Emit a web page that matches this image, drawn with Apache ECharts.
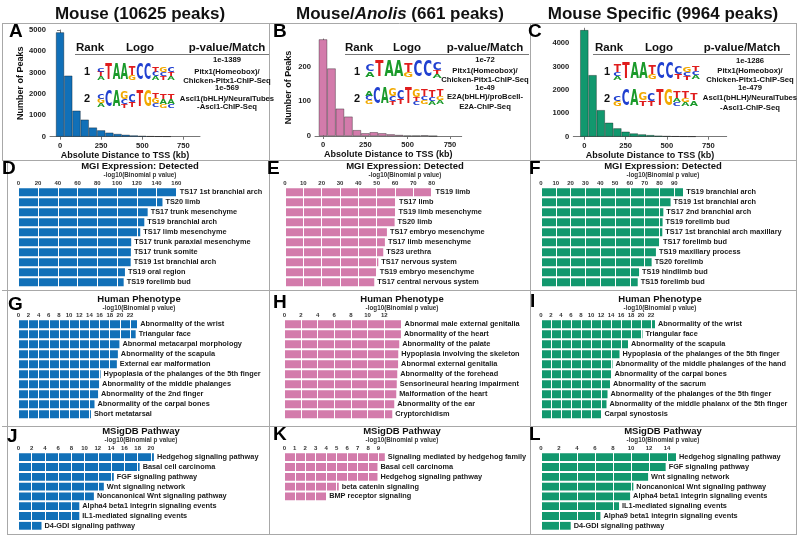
<!DOCTYPE html>
<html><head><meta charset="utf-8">
<script src="https://cdn.jsdelivr.net/npm/echarts@6/dist/echarts.min.js"></script>
<style>html,body{margin:0;padding:0;background:#fff}#c{width:800px;height:543px}</style>
</head><body><div id="c"></div>
<script>
// ---------------- DATA ----------------
const histBins = [0,50,100,150,200,250,300,350,400,450,500,550,600,650];
const mouseCounts    = [4890,2860,1220,800,430,300,190,130,90,60,40,25,15,10];
const anolisCounts   = [279,195,79,56,17,8,11,8,5,3,1,1,2,0];
const specificCounts = [4570,2640,1140,600,360,215,140,100,70,45,30,20,12,8];
const histXTicks = [0,250,500,750];
const mouseYTicks = [0,1000,2000,3000,4000,5000];
const anolisYTicks = [0,100,200];
const specificYTicks = [0,1000,2000,3000,4000];

const colTitles = ['Mouse (10625 peaks)', 'Mouse/Anolis (661 peaks)', 'Mouse Specific (9964 peaks)'];
const mouseMotifText = ['1e-1389','Pitx1(Homeobox)/','Chicken-Pitx1-ChIP-Seq','1e-569','Ascl1(bHLH)/NeuralTubes','-Ascl1-ChIP-Seq'];
const anolisMotifText = ['1e-72','Pitx1(Homeobox)/','Chicken-Pitx1-ChIP-Seq','1e-49','E2A(bHLH)/proBcell-','E2A-ChIP-Seq'];
const specificMotifText = ['1e-1286','Pitx1(Homeobox)/','Chicken-Pitx1-ChIP-Seq','1e-479','Ascl1(bHLH)/NeuralTubes','-Ascl1-ChIP-Seq'];

// sequence logos: columns, letters top->bottom with relative heights
const logoMouse1 = [[['C',.25],['T',.3],['A',.25]],[['T',1]],[['A',1]],[['A',1]],[['T',.55],['G',.3]],[['C',1]],[['C',.95]],[['T',.3],['C',.3],['A',.25]],[['G',.3],['C',.25],['T',.25]],[['C',.3],['T',.25],['A',.25]]];
const logoMouse2 = [[['C',.3],['G',.3],['A',.25]],[['C',1]],[['A',1]],[['G',.45],['C',.3],['T',.2]],[['C',.5],['T',.3]],[['T',1]],[['G',1]],[['T',.35],['G',.3],['C',.25]],[['T',.35],['A',.3],['G',.2]],[['T',.3],['A',.3],['C',.2]]];
const logoAnolis1 = [[['C',.4],['A',.35]],[['T',1]],[['A',1]],[['A',1]],[['T',.6],['G',.3]],[['C',1]],[['C',1]],[['C',.45],['T',.25],['A',.2]]];
const logoAnolis2 = [[['A',.3],['C',.3],['G',.25]],[['C',1]],[['A',1]],[['G',.45],['C',.3],['T',.2]],[['C',.55],['T',.3]],[['T',1]],[['G',.45],['T',.25],['C',.2]],[['T',.4],['C',.25],['G',.25]],[['T',.4],['C',.25],['A',.2]],[['T',.4],['G',.25],['A',.25]]];
const logoSpecific1 = [[['T',.45],['C',.25],['A',.2]],[['T',1]],[['A',1]],[['A',1]],[['T',.55],['G',.3]],[['C',1]],[['C',1]],[['C',.45],['T',.3]],[['G',.35],['C',.25],['T',.2]],[['T',.35],['C',.25],['A',.25]]];
const logoSpecific2 = [[['C',.35],['G',.35]],[['C',1]],[['A',1]],[['G',.45],['T',.35]],[['C',.5],['T',.3]],[['T',1]],[['G',1]],[['T',.4],['A',.25],['C',.25]],[['T',.4],['G',.25],['A',.25]],[['T',.4],['A',.35]]];

const mgiMouseTerms = ['TS17 1st branchial arch','TS20 limb','TS17 trunk mesenchyme','TS19 branchial arch','TS17 limb mesenchyme','TS17 trunk paraxial mesenchyme','TS17 trunk somite','TS19 1st branchial arch','TS19 oral region','TS19 forelimb bud'];
const mgiMouseVals = [160.5,146,131,127.6,123.5,114.3,114,113.8,108,106.7];
const mgiAnolisTerms = ['TS19 limb','TS17 limb','TS19 limb mesenchyme','TS20 limb','TS17 embryo mesenchyme','TS17 limb mesenchyme','TS23 urethra','TS17 nervous system','TS19 embryo mesenchyme','TS17 central nervous system'];
const mgiAnolisVals = [80.5,60.5,60.3,59.8,55.6,54.5,53.6,50.9,50.0,48.7];
const mgiSpecTerms = ['TS19 branchial arch','TS19 1st branchial arch','TS17 2nd branchial arch','TS19 forelimb bud','TS17 1st branchial arch maxillary','TS17 forelimb bud','TS19 maxillary process','TS20 forelimb','TS19 hindlimb bud','TS15 forelimb bud'];
const mgiSpecVals = [96,87.5,82.6,82.1,81.9,80.3,77.6,74.7,66.2,65.3];

const hpMouseTerms = ['Abnormality of the wrist','Triangular face','Abnormal metacarpal morphology','Abnormality of the scapula','External ear malformation','Hypoplasia of the phalanges of the 5th finger','Abnormality of the middle phalanges','Abnormality of the 2nd finger','Abnormality of the carpal bones','Short metatarsal'];
const hpMouseVals = [23.4,23.1,19.9,19.6,19.4,16.2,15.9,15.7,15.0,14.3];
const hpAnolisTerms = ['Abnormal male external genitalia','Abnormality of the heart','Abnormality of the palate','Hypoplasia involving the skeleton','Abnormal external genitalia','Abnormality of the forehead','Sensorineural hearing impairment','Malformation of the heart','Abnormality of the ear','Cryptorchidism'];
const hpAnolisVals = [14.08,14.0,13.8,13.68,13.66,13.56,13.5,13.44,13.2,12.96];
const hpSpecTerms = ['Abnormality of the wrist','Triangular face','Abnormality of the scapula','Hypoplasia of the phalanges of the 5th finger','Abnormality of the middle phalanges of the hand','Abnormality of the carpal bones','Abnormality of the sacrum','Abnormality of the phalanges of the 5th finger','Abnormality of the middle phalanx of the 5th finger','Carpal synostosis'];
const hpSpecVals = [22.8,20.3,17.4,15.7,14.3,14.1,13.8,13.3,13.1,12.1];

const msMouseTerms = ['Hedgehog signaling pathway','Basal cell carcinoma','FGF signaling pathway','Wnt signaling network','Noncanonical Wnt signaling pathway','Alpha4 beta1 integrin signaling events','IL1-mediated signaling events','D4-GDI signaling pathway'];
const msMouseVals = [20.45,18.3,14.4,12.9,11.4,9.2,9.2,3.5];
const msAnolisTerms = ['Signaling mediated by hedgehog family','Basal cell carcinoma','Hedgehog signaling pathway','beta catenin signaling','BMP receptor signaling'];
const msAnolisVals = [9.6,8.9,8.9,5.2,4.0];
const msSpecTerms = ['Hedgehog signaling pathway','FGF signaling pathway','Wnt signaling network','Noncanonical Wnt signaling pathway','Alpha4 beta1 integrin signaling events','IL1-mediated signaling events','Alpha9 beta1 integrin signaling events','D4-GDI signaling pathway'];
const msSpecVals = [15.0,13.85,11.9,10.26,9.9,8.67,6.6,3.3];

// largest tick label printed on each bar panel's axis
const barAxisLastLabel = [160, 80, 90, 22, 12, 22, 20, 9, 14];

const sectionTitles = ['MGI Expression: Detected','Human Phenotype','MSigDB Pathway'];
const axisSubtitle = '-log10(Binomial p value)';

// ---------------- STYLE / LAYOUT ----------------
const FF = '"Liberation Sans", Arial, sans-serif';
const BLUE = '#1170b8', PINK = '#d37bab', GREEN = '#12986e';
const LOGOCOL = {A:'#1a9a2a', C:'#2040d0', G:'#f2a900', T:'#e01c1c'};

const chart = echarts.init(document.getElementById('c'), null, {renderer:'canvas', width:800, height:543});

const grids = [], xAxes = [], yAxes = [], series = [];

// histograms
const hists = [
  {counts: mouseCounts, yTicks: mouseYTicks, color: BLUE, left:50, top:30, width:150, height:106.7, xmin:-61, xmax:851, ymax:5000, yname:'Number of Peaks', nameGap:24},
  {counts: anolisCounts, yTicks: anolisYTicks, color: PINK, left:315, top:39, width:146.7, height:97, xmin:-47.3, xmax:819.2, ymax:280, yname:'Number of Peaks', nameGap:22},
  {counts: specificCounts, yTicks: specificYTicks, color: GREEN, left:573.3, top:28.2, width:153.4, height:108.5, xmin:-66.5, xmax:861.5, ymax:4650, yname:'', nameGap:22}
];
hists.forEach((h, i) => {
  grids.push({left:h.left, top:h.top, width:h.width, height:h.height, containLabel:false});
  const binPx = 50 / (h.xmax - h.xmin) * h.width;
  xAxes.push({gridIndex:i, type:'value', min:h.xmin, max:h.xmax,
    name:'Absolute Distance to TSS (kb)', nameLocation:'middle', nameGap:13,
    nameTextStyle:{fontFamily:FF, fontWeight:'bold', fontSize:9, color:'#111'},
    axisLine:{show:true, lineStyle:{color:'#777', width:1}},
    axisTick:{show:true, length:3, customValues:histXTicks, lineStyle:{color:'#777'}},
    axisLabel:{customValues:histXTicks, formatter: v => String(v), fontFamily:FF, fontWeight:'bold', fontSize:7.6, color:'#222', margin:5},
    splitLine:{show:false}});
  yAxes.push({gridIndex:i, type:'value', min:0, max:h.ymax,
    name:h.yname, nameLocation:'middle', nameGap:h.nameGap, nameRotate:90,
    nameTextStyle:{fontFamily:FF, fontWeight:'bold', fontSize:9, color:'#111'},
    axisLine:{show:true, lineStyle:{color:'#777', width:1}},
    axisTick:{show:true, length:3, customValues:h.yTicks, lineStyle:{color:'#777'}},
    axisLabel:{customValues:h.yTicks, formatter: v => String(v), fontFamily:FF, fontWeight:'bold', fontSize:7.6, color:'#222', margin:4},
    splitLine:{show:false}});
  series.push({type:'bar', xAxisIndex:i, yAxisIndex:i, barWidth:binPx,
    data: histBins.map((b, k) => [b, h.counts[k]]),
    itemStyle:{color:h.color, borderColor:'rgba(0,0,0,0.55)', borderWidth:0.6}, silent:true});
});

// bar panels
const panels = [
  {terms:mgiMouseTerms, vals:mgiMouseVals, color:BLUE, left:18.3, top:187.3, ppu:0.9875, interval:20, pitch:10},
  {terms:mgiAnolisTerms, vals:mgiAnolisVals, color:PINK, left:285, top:187.3, ppu:1.833, interval:10, pitch:10},
  {terms:mgiSpecTerms, vals:mgiSpecVals, color:GREEN, left:541, top:187.3, ppu:1.481, interval:10, pitch:10},
  {terms:hpMouseTerms, vals:hpMouseVals, color:BLUE, left:18.3, top:319.3, ppu:5.08, interval:2, pitch:10},
  {terms:hpAnolisTerms, vals:hpAnolisVals, color:PINK, left:284.3, top:319.3, ppu:8.33, interval:2, pitch:10},
  {terms:hpSpecTerms, vals:hpSpecVals, color:GREEN, left:541, top:319.3, ppu:5.0, interval:2, pitch:10},
  {terms:msMouseTerms, vals:msMouseVals, color:BLUE, left:18.3, top:452.3, ppu:6.63, interval:2, pitch:9.8},
  {terms:msAnolisTerms, vals:msAnolisVals, color:PINK, left:284.3, top:452.3, ppu:10.47, interval:1, pitch:9.8},
  {terms:msSpecTerms, vals:msSpecVals, color:GREEN, left:541, top:452.3, ppu:9.0, interval:2, pitch:9.8}
];
panels.forEach((p, j) => {
  const gi = 3 + j;
  const mx = Math.max(...p.vals);
  grids.push({left:p.left, top:p.top, width:mx * p.ppu, height:p.terms.length * p.pitch});
  const iv = p.interval, lastLab = barAxisLastLabel[j];
  xAxes.push({gridIndex:gi, type:'value', position:'top', min:0, max:mx, interval:iv, z:5,
    axisLine:{show:false}, axisTick:{show:false},
    splitLine:{show:true, lineStyle:{color:'#ffffff', width:1}},
    axisLabel:{fontFamily:FF, fontWeight:'bold', fontSize:6, color:'#333', margin:1,
      formatter: v => { const r = v / iv; return (Math.abs(r - Math.round(r)) < 1e-6 && v <= lastLab + 1e-6) ? String(Math.round(v)) : ''; }}});
  yAxes.push({gridIndex:gi, type:'category', data:p.terms, inverse:true, show:false});
  // coloured bars (white axis split lines are drawn over them)
  series.push({type:'bar', xAxisIndex:gi, yAxisIndex:gi, data:p.vals, barCategoryGap:'20%', barGap:'-100%',
    itemStyle:{color:p.color}, silent:true, z:2});
  // transparent twin carrying the term labels above the split lines
  series.push({type:'bar', xAxisIndex:gi, yAxisIndex:gi, data:p.vals, barCategoryGap:'20%', barGap:'-100%',
    itemStyle:{color:'rgba(0,0,0,0)'}, silent:true, z:10,
    label:{show:true, position:'right', distance:3, formatter:'{b}', fontFamily:FF, fontWeight:'bold', fontSize:7.35, color:'#1a1a1a'}});
});

// ---------------- GRAPHICS ----------------
const G = [];
function txt(x, y, s, font, opts) {
  G.push(Object.assign({type:'text', x:x, y:y, silent:true, z:50,
    style:Object.assign({text:s, font:font, fill:'#111', align:'center', verticalAlign:'middle'}, (opts||{}).style||{})}, (opts||{}).el||{}));
}
function line(x1, y1, x2, y2) {
  G.push({type:'line', silent:true, z:40, shape:{x1:x1, y1:y1, x2:x2, y2:y2}, style:{stroke:'#a8a8a8', lineWidth:1}});
}
// frame
line(2, 23.5, 797, 23.5);
line(2, 160.5, 797, 160.5);
line(2, 290.5, 797, 290.5);
line(2, 426.5, 797, 426.5);
line(7, 534.5, 797, 534.5);
line(2.5, 23, 2.5, 161);
line(7.5, 160, 7.5, 535);
line(269.5, 23, 269.5, 535);
line(530.5, 23, 530.5, 535);
line(796.5, 23, 796.5, 535);

// column titles
txt(140, 14, colTitles[0], 'bold 17px ' + FF);
G.push({type:'text', x:400, y:14, silent:true, z:50, style:{text:'{n|Mouse/}{i|Anolis}{n| (661 peaks)}', align:'center', verticalAlign:'middle',
  rich:{n:{font:'bold 17px ' + FF, fill:'#111'}, i:{font:'italic bold 17px ' + FF, fill:'#111'}}}});
txt(663, 14, colTitles[2], 'bold 17px ' + FF);

// panel letters
const letters = [['A',9,22],['B',273,22],['C',528,22],['D',2,159],['E',267,159],['F',529,159],['G',8,295],['H',273,293],['I',530,292],['J',7,427],['K',273,425],['L',529,425]];
letters.forEach(l => txt(l[1], l[2], l[0], 'bold 19px ' + FF, {style:{align:'left', verticalAlign:'top', fill:'#000'}}));

// section titles
const secRows = [[166.7,175.7],[299.7,308.7],[431.7,440]];
const secCx = [[140,405,663],[139,402,660],[141,402,663]];
secRows.forEach((r, i) => {
  secCx[i].forEach(cx => {
    txt(cx, r[0], sectionTitles[i], 'bold 9.5px ' + FF);
    txt(cx, r[1], axisSubtitle, 'bold 6.3px ' + FF, {style:{fill:'#333'}});
  });
});

// motif tables
function drawLogo(cols, x0, x1, yBottom, maxH) {
  const w = (x1 - x0) / cols.length;
  cols.forEach((col, ci) => {
    const cx = x0 + w * (ci + 0.5);
    let y = yBottom;
    for (let k = col.length - 1; k >= 0; k--) {
      const L = col[k][0], h = col[k][1] * maxH;
      const yc = y - h / 2;
      G.push({type:'text', x:cx, y:yc, scaleX:(w * 0.95) / 15.2, scaleY:h / 14.6, silent:true, z:50,
        style:{text:L, font:'bold 20px "DejaVu Sans", sans-serif', fill:LOGOCOL[L], align:'center', verticalAlign:'middle'}});
      y -= h;
    }
  });
}
const tables = [
  {rank:90, logo:140, pv:227, l0:75, l1:269, num:87, lg1:[97,175], lg2:[97,175], lines:mouseMotifText, l1y:81, l2y:108, logos:[logoMouse1, logoMouse2], ty:[60,71.7,80.7,88,99.3,107.3]},
  {rank:359, logo:407, pv:485, l0:345, l1:529, num:357, lg1:[365,442], lg2:[365,444], lines:anolisMotifText, l1y:78, l2y:105, logos:[logoAnolis1, logoAnolis2], ty:[60,71,80,88,97,107]},
  {rank:609, logo:659, pv:742, l0:593, l1:790, num:607, lg1:[613,700], lg2:[613,698], lines:specificMotifText, l1y:80, l2y:107, logos:[logoSpecific1, logoSpecific2], ty:[61,71,80,88,98,108]}
];
tables.forEach((t, ti) => {
  txt(t.rank, 48, 'Rank', 'bold 11.5px ' + FF);
  txt(t.logo, 48, 'Logo', 'bold 11.5px ' + FF);
  txt(t.pv, 48, 'p-value/Match', 'bold 11.5px ' + FF);
  G.push({type:'line', silent:true, z:40, shape:{x1:t.l0, y1:54.5, x2:t.l1, y2:54.5}, style:{stroke:'#777', lineWidth:1}});
  txt(t.num, 72, '1', 'bold 11px ' + FF);
  txt(t.num, 99, '2', 'bold 11px ' + FF);
  const mtx = ti === 1 ? 485 : (ti === 0 ? 227 : 750);
  t.lines.forEach((s, k) => txt(mtx, t.ty[k], s, 'bold 7.7px ' + FF));
  drawLogo(t.logos[0], t.lg1[0], t.lg1[1], t.l1y, 16);
  drawLogo(t.logos[1], t.lg2[0], t.lg2[1], t.l2y, 16);
});

chart.setOption({
  animation:false,
  backgroundColor:'#ffffff',
  grid:grids, xAxis:xAxes, yAxis:yAxes, series:series,
  graphic:{elements:G}
});
</script></body></html>
